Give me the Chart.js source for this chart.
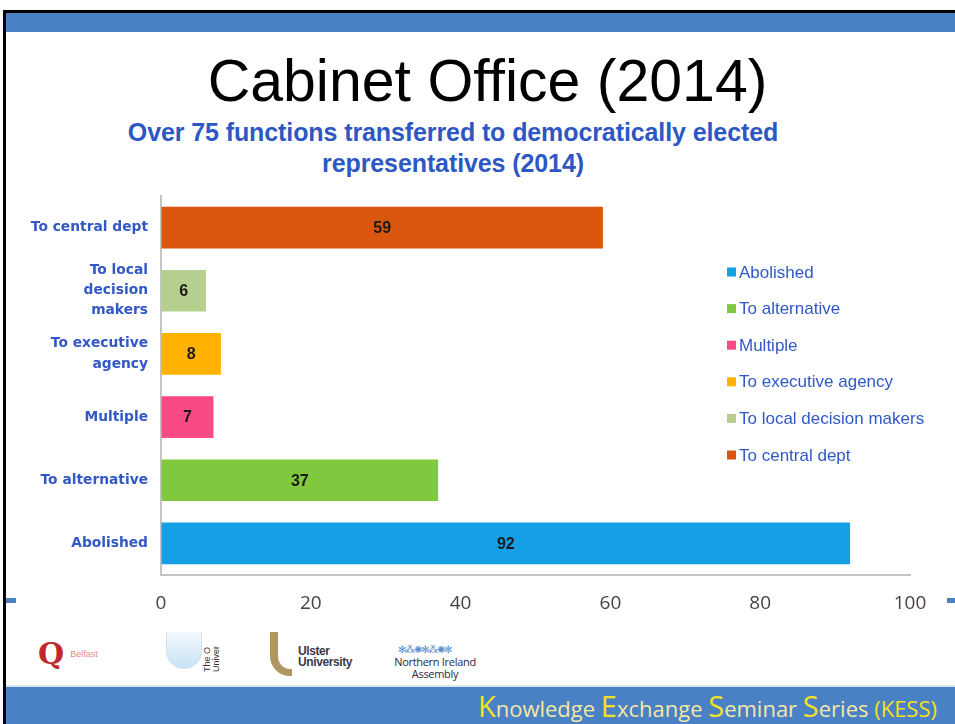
<!DOCTYPE html>
<html>
<head>
<meta charset="utf-8">
<title>Cabinet Office (2014)</title>
<script src="https://cdn.jsdelivr.net/npm/chart.js@4.4.1/dist/chart.umd.min.js"></script>
<style>
  html, body { margin: 0; padding: 0; background: #fff; }
  body { width: 955px; height: 724px; position: relative; overflow: hidden; font-family: "Liberation Sans", Arial, sans-serif; }
  .frame-top { position: absolute; left: 3px; top: 10px; width: 952px; height: 3px; background: #000; }
  .frame-left { position: absolute; left: 3px; top: 10px; width: 3px; height: 714px; background: #000; }
  .topbar { position: absolute; left: 6px; top: 13px; width: 949px; height: 19px; background: #4a81c4; }
  .title { position: absolute; left: 0; width: 975px; top: 46px; text-align: center; font-size: 59px; color: #000; line-height: 70px; }
  .subtitle { position: absolute; left: 0; width: 906px; top: 117px; text-align: center; font-size: 25px; font-weight: bold; color: #2d58c4; line-height: 31px; letter-spacing: -0.1px; }
  .tick-l { position: absolute; left: 6px; top: 598px; width: 10px; height: 5px; background: #4a81c4; }
  .tick-r { position: absolute; left: 947px; top: 598px; width: 8px; height: 5px; background: #4a81c4; }
  .footline { position: absolute; left: 6px; top: 685px; width: 949px; height: 2px; background: #d7e6f3; }
  .footer { position: absolute; left: 6px; top: 687px; width: 949px; height: 37px; background: #4a81c4; }
  .footer-text { position: absolute; right: 18px; top: -1px; font-family: "Open Sans", sans-serif; font-size: 22px; color: #f3e7a6; letter-spacing: 0px; white-space: nowrap; }
  .footer-text b { font-weight: normal; color: #f2e221; font-size: 29px; }
  .footer-text i { font-style: normal; color: #f2e221; }
  #chart-wrap { position: absolute; left: 0; top: 190px; width: 955px; height: 430px; }
  .logo { position: absolute; }
  .qub { left: 38px; top: 640px; color: #c0282d; font-size: 30px; font-weight: bold; font-family: "DejaVu Serif", serif; line-height: 28px; }
  .qub span { font-size: 9px; color: #e08c8c; font-family: "Liberation Sans", sans-serif; font-weight: normal; vertical-align: top; margin-left: 6px; }
  .ou { left: 166px; top: 632px; width: 34px; height: 36px; border-radius: 0 0 18px 18px; background: linear-gradient(#f4f9fd, #c7e3f5); border: 1px solid #cfe4f2; border-top: none; }
  .ou-text { left: 203px; top: 636px; font-size: 9px; line-height: 9px; color: #333; writing-mode: vertical-rl; transform: rotate(180deg); height: 36px; }
  .ulster-arc { left: 270px; top: 632px; width: 22px; height: 44px; border-left: 8px solid #b09663; border-bottom: 7px solid #b09663; border-bottom-left-radius: 20px; box-sizing: border-box; }
  .ulster-text { left: 298px; top: 646px; font-size: 12px; line-height: 11px; font-weight: bold; color: #3a3a4a; letter-spacing: -0.4px; }
  .nia-mark { left: 398px; top: 645px; color: #5b8fd2; font-size: 10px; letter-spacing: -1px; line-height: 10px; }
  .nia-text { left: 388px; top: 656px; width: 94px; text-align: center; font-size: 11px; line-height: 12px; color: #2a2a3a; font-family: "Open Sans", sans-serif; letter-spacing: -0.3px; }
</style>
</head>
<body>
<div class="frame-top"></div>
<div class="frame-left"></div>
<div class="topbar"></div>
<div class="title">Cabinet Office (2014)</div>
<div class="subtitle">Over 75 functions transferred to democratically elected<br>representatives (2014)</div>
<div id="chart-wrap"><canvas id="chart" width="955" height="430"></canvas></div>
<div class="tick-l"></div>
<div class="tick-r"></div>

<div class="logo qub">Q<span>Belfast</span></div>
<div class="logo ou"></div>
<div class="logo ou-text">The O<br>Univer</div>
<div class="logo ulster-arc"></div>
<div class="logo ulster-text">Ulster<br>University</div>
<div class="logo nia-mark">✻⁂✺✻⁂✺✻</div>
<div class="logo nia-text">Northern Ireland<br>Assembly</div>

<div class="footline"></div>
<div class="footer">
  <div class="footer-text"><b>K</b>nowledge <b>E</b>xchange <b>S</b>eminar <b>S</b>eries <i>(KESS)</i></div>
</div>

<script>
// data, bottom to top
const categories = ['Abolished', 'To alternative', 'Multiple', 'To executive agency', 'To local decision makers', 'To central dept'];
const tickLabels = ['Abolished', 'To alternative', 'Multiple', ['To executive', 'agency'], ['To local', 'decision', 'makers'], 'To central dept'];
const counts = [92, 37, 7, 8, 6, 59];
const barColors = ['#15a0e6', '#80c93f', '#f94a86', '#ffb300', '#b6cf8e', '#da560f'];
const xTicks = [0, 20, 40, 60, 80, 100];

const labelBlue = '#3158c6';

// value in the middle of each bar
const barValues = {
  id: 'barValues',
  afterDatasetsDraw(chart){
    const ctx = chart.ctx;
    const meta = chart.getDatasetMeta(0);
    ctx.save();
    ctx.font = 'bold 16px "Liberation Sans", Arial, sans-serif';
    ctx.fillStyle = '#1a1a1a';
    ctx.textAlign = 'center';
    ctx.textBaseline = 'middle';
    meta.data.forEach((bar, i) => {
      const p = bar.getProps(['x', 'y', 'base'], true);
      ctx.fillText(String(counts[i]), (p.x + p.base) / 2, p.y + 1);
    });
    ctx.restore();
  }
};

// legend inside the plot, one entry per category
const sideLegend = {
  id: 'sideLegend',
  afterDraw(chart, args, opts){
    const ctx = chart.ctx;
    ctx.save();
    ctx.font = '17px "Liberation Sans", Arial, sans-serif';
    ctx.textBaseline = 'middle';
    categories.forEach((name, i) => {
      const y = opts.top + i * opts.gap;
      ctx.fillStyle = barColors[i];
      ctx.fillRect(opts.left, y - 4.5, 9, 9);
      ctx.fillStyle = labelBlue;
      ctx.fillText(name, opts.left + 12, y + 1);
    });
    ctx.restore();
  }
};

new Chart(document.getElementById('chart'), {
  type: 'bar',
  data: {
    labels: categories,
    datasets: [{
      data: counts,
      backgroundColor: barColors,
      borderWidth: 0,
      categoryPercentage: 1,
      barPercentage: 0.66
    }]
  },
  options: {
    indexAxis: 'y',
    responsive: false,
    animation: false,
    layout: { padding: { top: 6, right: 45, left: 0, bottom: 0 } },
    plugins: {
      legend: { display: false },
      tooltip: { enabled: false },
      sideLegend: { left: 727, top: 82, gap: 36.6 }
    },
    scales: {
      x: {
        min: 0, max: 100,
        afterBuildTicks: (s) => { s.ticks = xTicks.map(v => ({ value: v })); },
        grid: { drawOnChartArea: false, drawTicks: false },
        border: { color: '#c4c4c4', width: 2 },
        ticks: {
          padding: 17,
          color: '#4a4242',
          font: { family: '"Liberation Sans Narrow", "Open Sans", sans-serif', size: 19 }
        },
        afterFit: (s) => { s.height = 45; s.paddingLeft = 0; s.paddingRight = 0; }
      },
      y: {
        reverse: true,
        grid: { drawOnChartArea: false, drawTicks: false },
        border: { color: '#c4c4c4', width: 2 },
        ticks: {
          autoSkip: false,
          padding: 13,
          color: labelBlue,
          font: { family: '"DejaVu Sans", Verdana, sans-serif', size: 13.8, weight: 'bold', lineHeight: 1.45 },
          callback: (v, i) => tickLabels[i]
        },
        afterFit: (s) => { s.width = 161; s.paddingTop = 0; s.paddingBottom = 0; }
      }
    }
  },
  plugins: [barValues, sideLegend]
});
</script>
</body>
</html>
